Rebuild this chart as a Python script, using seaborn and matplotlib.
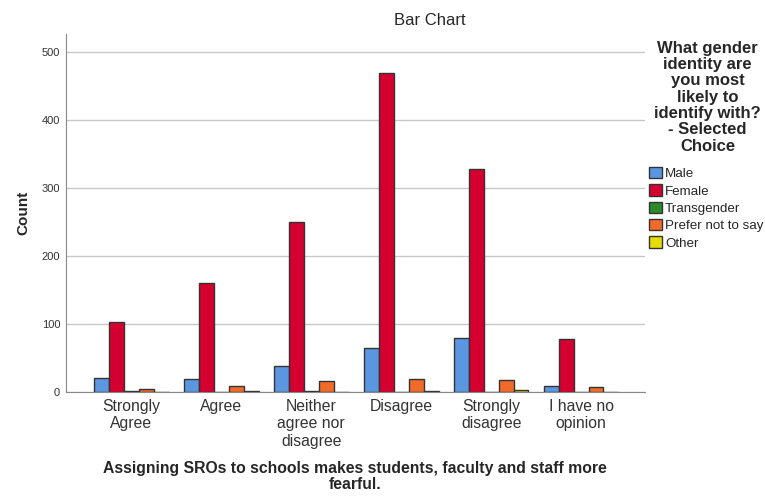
import pandas as pd
import numpy as np
import matplotlib
matplotlib.use("Agg")
import matplotlib.pyplot as plt
import seaborn as sns
from matplotlib.patches import Patch

# categorias do eixo x
respostas = ['Strongly\nAgree', 'Agree', 'Neither\nagree nor\ndisagree',
             'Disagree', 'Strongly\ndisagree', 'I have no\nopinion']
generos = ['Male', 'Female', 'Transgender', 'Prefer not to say', 'Other']

# contagens
male = [21, 19, 39, 65, 80, 9]
female = [103, 160, 250, 470, 328, 78]
transgender = [1, 0, 2, 0, 0, 0]
prefer_not = [4, 9, 16, 20, 18, 7]
other = [0, 1, 0, 1, 3, 0]

cores = ['#5a97e0', '#d5002f', '#2a8a2a', '#f26a2a', '#e6dc0a']

df = pd.DataFrame({
    'resposta': respostas * 5,
    'genero': np.repeat(generos, len(respostas)),
    'count': male + female + transgender + prefer_not + other,
})

sns.set_style("white")
plt.rcParams['font.family'] = ['Liberation Sans', 'DejaVu Sans']

fig = plt.figure(figsize=(7.65, 4.97), dpi=100)
ax = fig.add_axes([0.086, 0.211, 0.757, 0.721])

sns.barplot(data=df, x='resposta', y='count', hue='genero', order=respostas,
            hue_order=generos, palette=cores, width=0.83, edgecolor='#333333',
            linewidth=1.0, saturation=1, ax=ax, legend=False)

ax.set_ylim(0, 527)
ax.set_xlim(-0.73, 5.71)
ax.set_yticks([0, 100, 200, 300, 400, 500])
ax.yaxis.grid(True, color='#c8c8c8', linewidth=1)
ax.set_axisbelow(True)
for s in ['top', 'right']:
    ax.spines[s].set_visible(False)
for s in ['left', 'bottom']:
    ax.spines[s].set_color('#888888')
ax.tick_params(axis='both', length=0)
ax.tick_params(axis='y', labelsize=8, colors='#333333', pad=4)
ax.tick_params(axis='x', labelsize=11.3, colors='#333333', pad=5)
ax.set_ylabel('Count', fontsize=11, fontweight='bold', labelpad=8)
ax.set_xlabel('Assigning SROs to schools makes students, faculty and staff more\nfearful.',
              fontsize=11.3, fontweight='bold', labelpad=9, linespacing=1.05)

# titulo do grafico (no SPSS fica deslocado para a direita)
fig.text(0.562, 0.958, 'Bar Chart', ha='center', va='center', fontsize=12)

fig.text(0.925, 0.918, 'What gender\nidentity are\nyou most\nlikely to\nidentify with?\n- Selected\nChoice',
         ha='center', va='top', fontsize=12, fontweight='bold', linespacing=1.11)

handles = [Patch(facecolor=c, edgecolor='#333333', label=g) for g, c in zip(generos, cores)]
fig.legend(handles=handles, loc='upper left', bbox_to_anchor=(0.8485, 0.664),
           frameon=False, fontsize=9.6, handlelength=0.95, handleheight=0.95,
           handletextpad=0.25, labelspacing=0.3, borderaxespad=0, borderpad=0)

fig.savefig('out.png', dpi=100)
